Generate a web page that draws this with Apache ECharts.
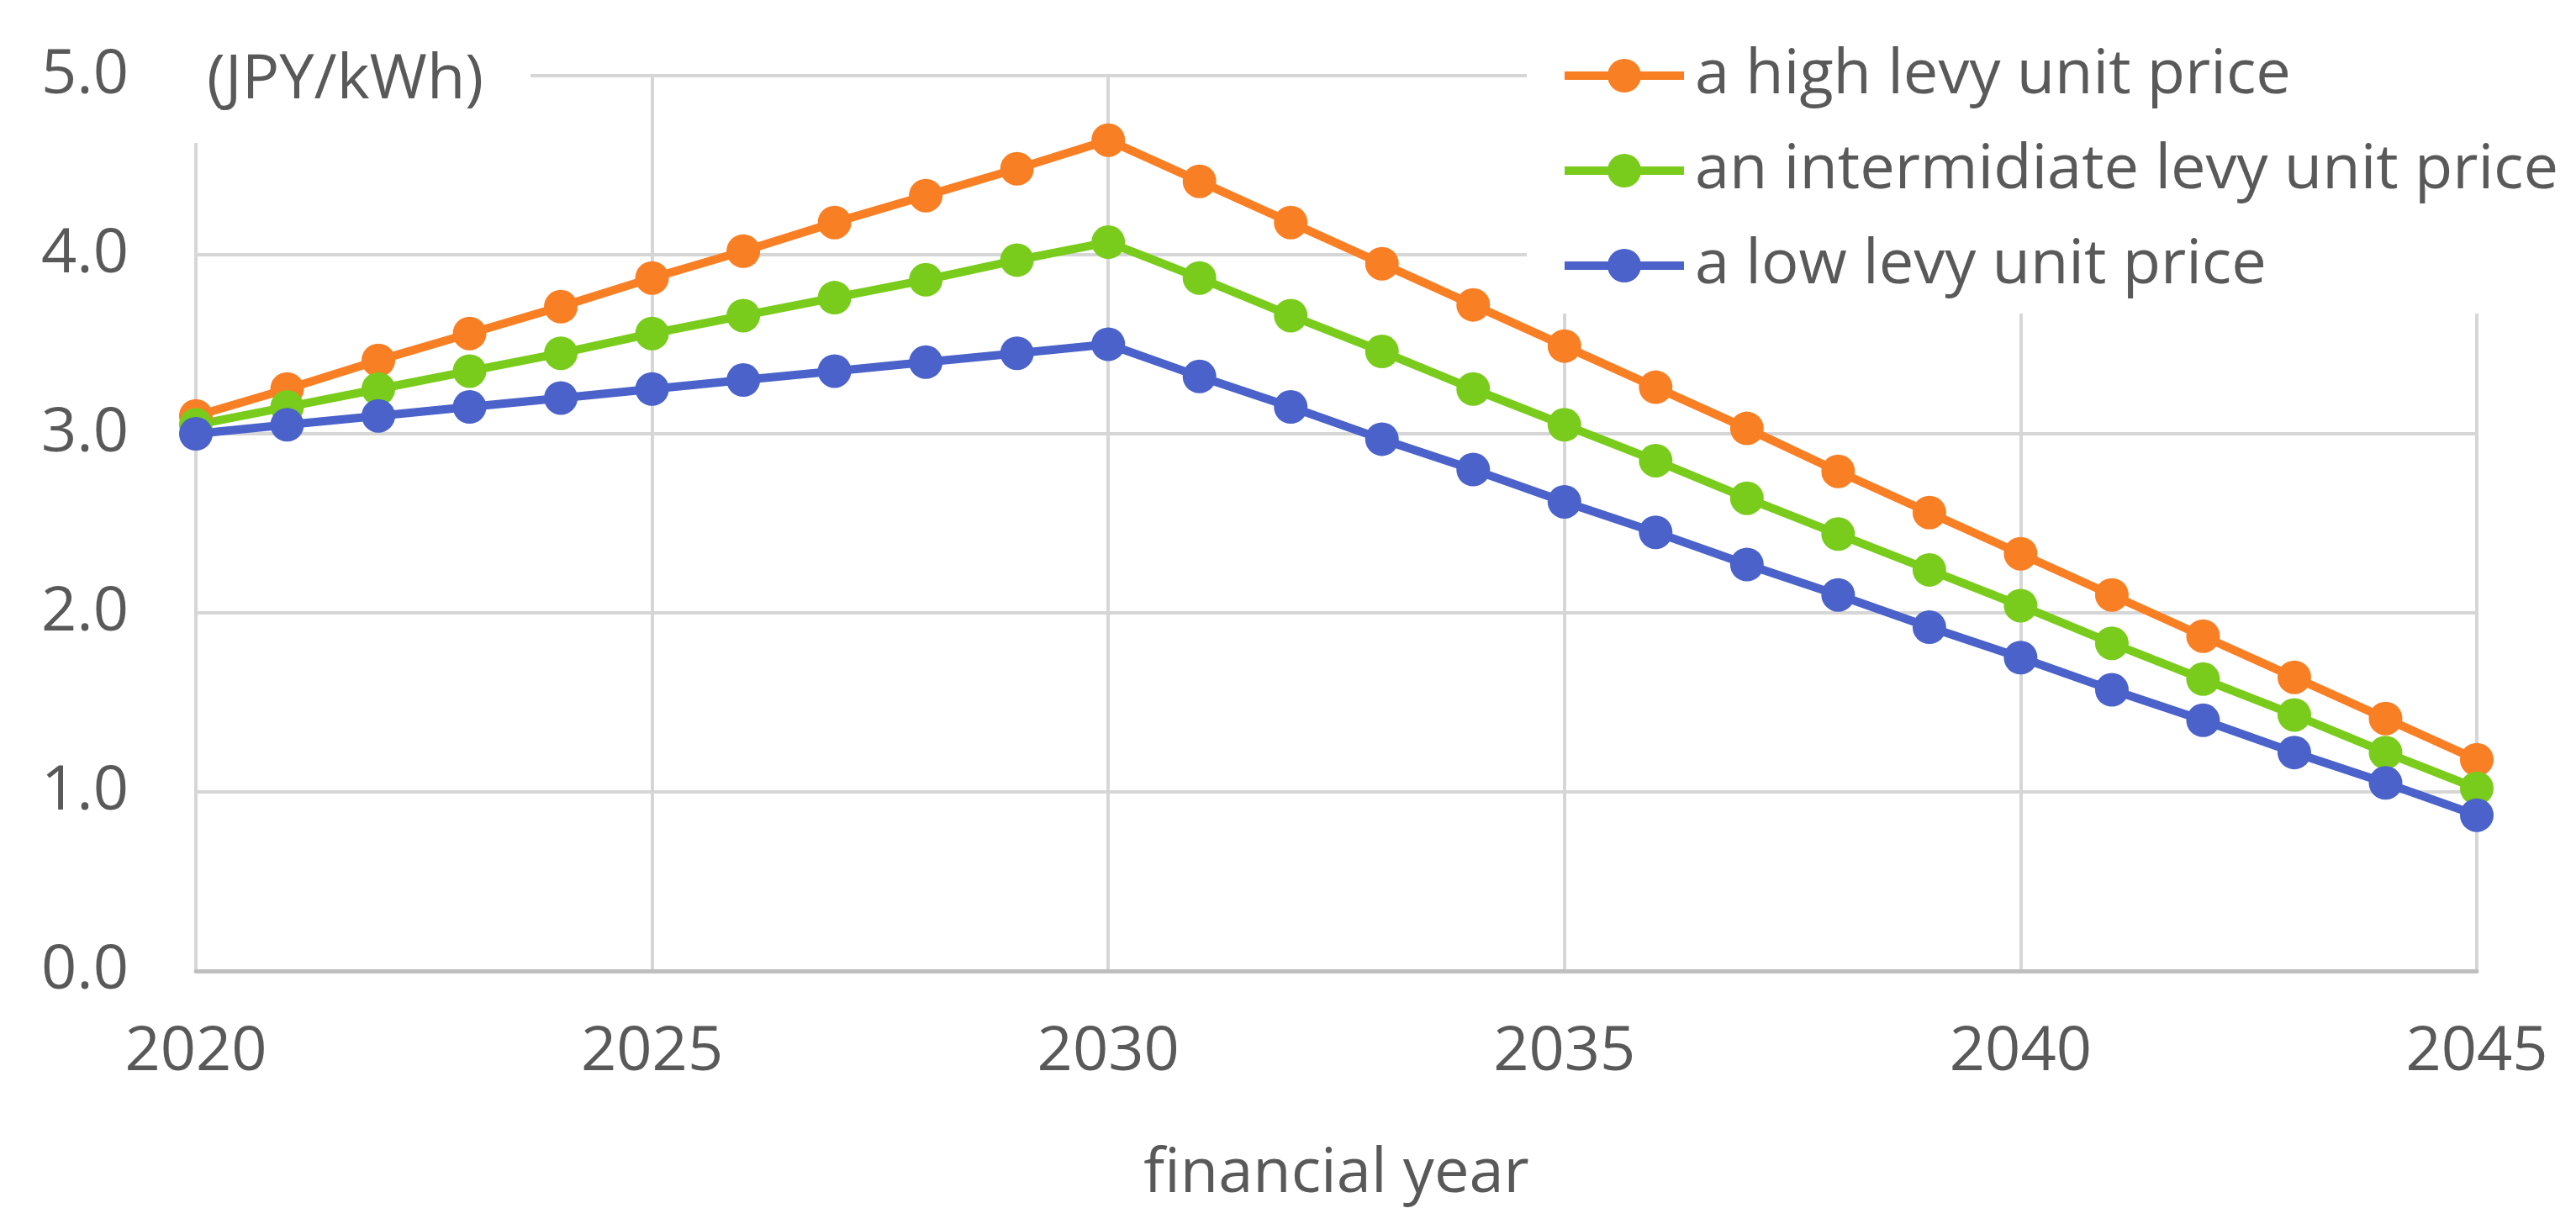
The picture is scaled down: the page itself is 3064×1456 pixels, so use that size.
<!DOCTYPE html>
<html>
<head>
<meta charset="utf-8">
<script src="https://cdn.jsdelivr.net/npm/echarts@6/dist/echarts.min.js"></script>
<style>
html,body{margin:0;padding:0;background:#fff;}
#chart{width:3064px;height:1456px;}
</style>
</head>
<body>
<div id="chart"></div>
<script>
const years = [2020,2021,2022,2023,2024,2025,2026,2027,2028,2029,2030,2031,2032,2033,2034,2035,2036,2037,2038,2039,2040,2041,2042,2043,2044,2045];
const highLevy = [3.10,3.25,3.41,3.56,3.71,3.87,4.02,4.18,4.33,4.48,4.64,4.41,4.18,3.95,3.72,3.49,3.26,3.03,2.79,2.56,2.33,2.10,1.87,1.64,1.41,1.18];
const midLevy  = [3.05,3.15,3.25,3.35,3.45,3.56,3.66,3.76,3.86,3.97,4.07,3.87,3.66,3.46,3.25,3.05,2.85,2.64,2.44,2.24,2.04,1.83,1.63,1.43,1.22,1.02];
const lowLevy  = [3.00,3.05,3.10,3.15,3.20,3.25,3.30,3.35,3.40,3.45,3.50,3.32,3.15,2.97,2.80,2.62,2.45,2.27,2.10,1.92,1.75,1.57,1.40,1.22,1.05,0.87];
const seriesNames = ['a high levy unit price','an intermidiate levy unit price','a low levy unit price'];
const yTicks = [0,1,2,3,4,5];
const xTicks = [2020,2025,2030,2035,2040,2045];
const unitLabel = '(JPY/kWh)';
const xAxisName = 'financial year';

const FONT = 'Open Sans';
const TXT = '#595959';
const colors = ['#F97F24','#7ACC1C','#4A62C9'];
const seriesData = [highLevy, midLevy, lowLevy];

const chart = echarts.init(document.getElementById('chart'));
chart.setOption({
  animation: false,
  backgroundColor: '#ffffff',
  grid: { left: 233, right: 118, top: 90, bottom: 301, outerBoundsMode: 'none', containLabel: false },
  xAxis: {
    type: 'value',
    min: xTicks[0], max: xTicks[xTicks.length-1], interval: 5,
    name: xAxisName, nameLocation: 'middle', nameGap: 205,
    nameTextStyle: { fontFamily: FONT, fontSize: 74, color: TXT },
    axisLine: { show: true, lineStyle: { color: '#bfbfbf', width: 5 } },
    axisTick: { show: false },
    axisLabel: { fontFamily: FONT, fontSize: 74, color: TXT, margin: 60, formatter: v => String(v) },
    splitLine: { show: true, lineStyle: { color: '#d6d6d6', width: 4 } }
  },
  yAxis: {
    type: 'value',
    min: yTicks[0], max: yTicks[yTicks.length-1], interval: 1,
    axisLine: { show: false },
    axisTick: { show: false },
    axisLabel: { fontFamily: FONT, fontSize: 74, color: TXT, margin: 80, formatter: v => v.toFixed(1) },
    splitLine: { show: true, lineStyle: { color: '#d6d6d6', width: 4 } }
  },
  legend: {
    orient: 'vertical', left: 1816, top: 0,
    padding: [53, 40, 20, 40],
    backgroundColor: '#ffffff',
    itemWidth: 142, itemHeight: 50, itemGap: 39,
    lineStyle: { width: 10 },
    textStyle: { fontFamily: FONT, fontSize: 74, color: TXT, lineHeight: 74, padding: [0,0,0,8] },
    data: seriesNames
  },
  graphic: [
    { type: 'rect', z: 10, shape: { x: 190, y: 0, width: 441, height: 170 }, style: { fill: '#ffffff' } },
    { type: 'text', z: 11, x: 246, y: 96, style: { text: unitLabel, fontFamily: FONT, fontSize: 74, fill: TXT, textVerticalAlign: 'middle', verticalAlign: 'middle' } }
  ],
  series: seriesData.map((arr, i) => ({
    name: seriesNames[i],
    type: 'line',
    data: years.map((y, j) => [y, arr[j]]),
    symbol: 'circle', symbolSize: 40,
    lineStyle: { color: colors[i], width: 10 },
    itemStyle: { color: colors[i] },
    emphasis: { disabled: true }
  }))
});
</script>
</body>
</html>
